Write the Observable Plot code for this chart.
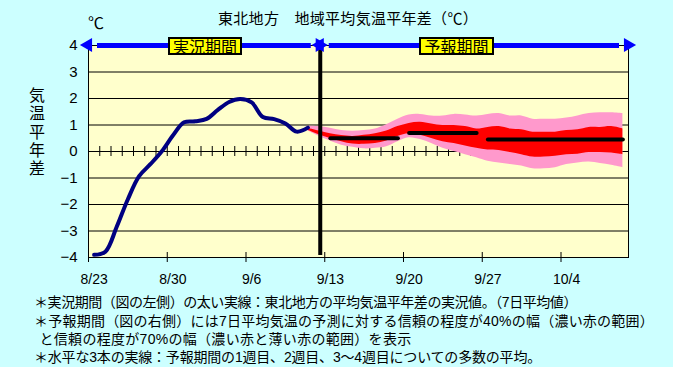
<!DOCTYPE html>
<html><head><meta charset="utf-8">
<script src="https://cdn.jsdelivr.net/npm/d3@7"></script>
<script src="https://cdn.jsdelivr.net/npm/@observablehq/plot@0.6"></script>
<style>
html,body{margin:0;padding:0;background:#CCFFFF;}
#wrap{position:relative;width:673px;height:367px;overflow:hidden;font-family:"Noto Sans CJK JP","Noto Sans",sans-serif;color:#000;}
#wrap svg{position:absolute;left:0;top:0;}
.abs{position:absolute;white-space:nowrap;line-height:1;}
.vert{position:absolute;writing-mode:vertical-rl;text-orientation:upright;white-space:nowrap;font-size:16px;line-height:16px;letter-spacing:2.25px;}
.box{position:absolute;box-sizing:border-box;background:#FFFF00;border:2px solid #000;text-align:center;font-size:16px;line-height:14px;}
.cap{position:absolute;white-space:nowrap;font-size:14px;line-height:14px;font-family:"Liberation Sans","Noto Sans CJK JP",sans-serif;}
</style></head>
<body><div id="wrap"></div>
<script>
// ---- texts ----
const titleText = "東北地方　地域平均気温平年差（℃）";
const unitText = "℃";
const yLabelText = "気温平年差";
const periodLabels = ["実況期間", "予報期間"];
const captions = [
  "＊実況期間（図の左側）の太い実線：東北地方の平均気温平年差の実況値。（7日平均値）",
  "＊予報期間（図の右側）には7日平均気温の予測に対する信頼の程度が40%の幅（濃い赤の範囲）",
  "と信頼の程度が70%の幅（濃い赤と薄い赤の範囲）を表示",
  "＊水平な3本の実線：予報期間の1週目、2週目、3～4週目についての多数の平均。"
];
// ---- axes ----
const startDate = "8/23";
const endDate = "10/10";
const tickDates = ["8/23", "8/30", "9/6", "9/13", "9/20", "9/27", "10/4"];
const yTicks = [-4, -3, -2, -1, 0, 1, 2, 3, 4];
const boundaryDate = "9/12";
// ---- observed (7-day mean) ----
const obsDates = ["8/23","8/24","8/25","8/26","8/27","8/28","8/29","8/30","8/31","9/1",
                  "9/2","9/3","9/4","9/5","9/6","9/7","9/8","9/9","9/10","9/11"];
const obsValues = [-3.9,-3.78,-2.85,-1.8,-0.93,-0.48,0.0,0.6,1.1,1.14,
                   1.23,1.57,1.87,1.98,1.85,1.3,1.22,1.06,0.75,0.9];
// ---- forecast ranges ----
const fcDates = ["9/11","9/12","9/13","9/14","9/15","9/16","9/17","9/18","9/19","9/20",
                 "9/21","9/22","9/23","9/24","9/25","9/26","9/27","9/28","9/29","9/30",
                 "10/1","10/2","10/3","10/4","10/5","10/6","10/7","10/8","10/9"];
const pinkTop = [0.95,0.94,0.88,0.79,0.76,0.79,0.85,1.01,1.22,1.38,
                 1.40,1.34,1.34,1.40,1.38,1.34,1.40,1.43,1.34,1.34,
                 1.22,1.22,1.22,1.26,1.34,1.43,1.46,1.46,1.43];
const redTop = [0.88,0.77,0.67,0.60,0.57,0.61,0.67,0.77,0.94,1.06,
                1.10,1.04,0.98,0.98,0.94,0.85,0.91,0.94,0.85,0.82,
                0.73,0.73,0.73,0.79,0.82,0.91,0.91,0.94,0.85];
const redBottom = [0.80,0.63,0.49,0.37,0.28,0.27,0.30,0.40,0.57,0.67,
                   0.61,0.49,0.37,0.30,0.21,0.12,0.06,0.04,-0.04,-0.12,
                   -0.21,-0.21,-0.18,-0.12,-0.10,-0.04,-0.04,-0.06,-0.12];
const pinkBottom = [0.78,0.57,0.40,0.24,0.16,0.10,0.12,0.18,0.37,0.52,
                    0.45,0.30,0.12,0.00,-0.12,-0.24,-0.37,-0.43,-0.49,-0.55,
                    -0.65,-0.65,-0.61,-0.49,-0.43,-0.40,-0.45,-0.52,-0.61];
// ---- weekly ensemble means ----
const weekStart = ["9/13", "9/20", "9/27"];
const weekEnd = ["9/19", "9/26", "10/9"];
const weekMean = [0.5, 0.7, 0.45];

// ---- helpers ----
const YEAR = 2000;
function toDate(s){const [m,d]=s.split("/").map(Number);return new Date(YEAR,m-1,d);}
const origin = toDate(startDate);
function dayOf(s){return d3.timeDay.count(origin, toDate(s));}
const mid = s => dayOf(s) + 0.5;

const obs = obsDates.map((d,i)=>({x: mid(d), y: obsValues[i]}));
const fc = fcDates.map((d,i)=>({x: mid(d), pt: pinkTop[i], rt: redTop[i], rb: redBottom[i], pb: pinkBottom[i]}));
const weeks = weekStart.map((s,i)=>({x1: mid(s), x2: mid(weekEnd[i]), y: weekMean[i]}));
const xEnd = dayOf(endDate);
const boundary = dayOf(boundaryDate) + 0.6;
const minorDays = d3.range(1, xEnd);
const tickDays = tickDates.map(dayOf);
const arrows = [{x1: 0, x2: boundary}, {x1: boundary, x2: xEnd}];
const heads = [
  {x: 0, rot: -90, dx: 8},
  {x: boundary, rot: 90, dx: -9},
  {x: boundary, rot: -90, dx: 9},
  {x: xEnd, rot: 90, dx: -10}
];

const chart = Plot.plot({
  width: 673, height: 367,
  marginLeft: 88, marginRight: 45, marginTop: 45, marginBottom: 110,
  style: {background: "transparent", fontFamily: "'Liberation Sans', Arial, sans-serif", color: "black"},
  x: {domain: [0, xEnd], axis: null},
  y: {domain: [-4, 4], axis: null},
  marks: [
    Plot.frame({fill: "#FFFFCC", stroke: null}),
    Plot.ruleY(yTicks.filter(v => v > -4 && v < 4), {stroke: "black", strokeWidth: 1}),
    Plot.ruleX(minorDays, {x: d => d, y1: 0, y2: 0, insetTop: -5, insetBottom: -5, stroke: "black"}),
    Plot.areaY(fc, {x: "x", y1: "pb", y2: "pt", fill: "#FF99CC", curve: "catmull-rom"}),
    Plot.areaY(fc, {x: "x", y1: "rb", y2: "rt", fill: "#FF0000", curve: "catmull-rom"}),
    Plot.line(obs, {x: "x", y: "y", stroke: "#000080", strokeWidth: 4, curve: "catmull-rom", strokeLinecap: "round", strokeLinejoin: "round"}),
    Plot.link(weeks, {x1: "x1", x2: "x2", y1: "y", y2: "y", stroke: "black", strokeWidth: 4, strokeLinecap: "round"}),
    Plot.frame({stroke: "black", strokeWidth: 1}),
    Plot.ruleX([boundary], {y1: 4, y2: -4, insetBottom: 2, stroke: "black", strokeWidth: 4}),
    Plot.ruleY(arrows, {y: () => 4, x1: "x1", x2: "x2", insetLeft: 9, insetRight: 9, stroke: "#0000FF", strokeWidth: 5}),
    Plot.dot(heads, {x: "x", y: () => 4, dx: "dx", symbol: "triangle", rotate: "rot", r: 5.2, fill: "#0000FF", stroke: null}),
    Plot.ruleX(tickDays, {x: d => d, y1: -4, y2: -4, insetTop: -5, insetBottom: -5, stroke: "black"}),
    Plot.text(tickDates, {x: d => dayOf(d) + 0.5, y: -4, dy: 22, text: d => d, fontSize: 14}),
    Plot.text(yTicks, {x: 0, y: d => d, dx: -11, textAnchor: "end", text: d => d < 0 ? "\u2212" + (-d) : String(d), fontSize: 15})
  ]
});
const wrap = document.getElementById("wrap");
wrap.appendChild(chart);

function addDiv(cls, text, css){const el=document.createElement("div");el.className=cls;el.textContent=text;Object.assign(el.style,css);wrap.appendChild(el);return el;}
function fitWidth(el, target){
  const w = el.getBoundingClientRect().width;
  const n = [...el.textContent].length;
  el.style.letterSpacing = ((target - w) / n) + "px";
}
const t = addDiv("abs", titleText, {left:"218px", top:"10px", fontSize:"15px"});
fitWidth(t, 260);
addDiv("abs", unitText, {left:"88px", top:"14px", fontSize:"16px"});
addDiv("vert", yLabelText, {left:"29px", top:"87px"});
addDiv("box", periodLabels[0], {left:"168px", top:"37px", width:"74px", height:"18px"});
addDiv("box", periodLabels[1], {left:"419px", top:"37px", width:"75px", height:"18px"});
const capTops = [294.5, 314, 332, 350];
const capLefts = [34, 34, 39.5, 34];
const capWidths = [543, 620, 372, 507];
captions.forEach((c,i)=>{
  const el = addDiv("cap", c, {left: capLefts[i]+"px", top: capTops[i]+"px"});
  fitWidth(el, capWidths[i]);
});
</script>
</body></html>
